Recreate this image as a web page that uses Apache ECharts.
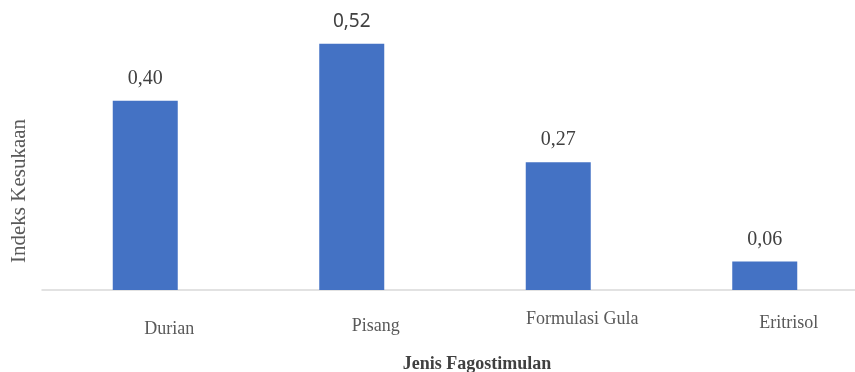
<!DOCTYPE html>
<html><head><meta charset="utf-8">
<script src="https://cdn.jsdelivr.net/npm/echarts@6/dist/echarts.min.js"></script>
<style>html,body{margin:0;padding:0;background:#fff}#c{width:855px;height:372px}</style>
</head><body><div id="c"></div>
<script>
var categories = ['Durian', 'Pisang', 'Formulasi Gula', 'Eritrisol'];
var values = [0.40, 0.52, 0.27, 0.06];
var xTitle = 'Jenis Fagostimulan';
var yTitle = 'Indeks Kesukaan';

// per-category label vertical offsets (style only)
var labelTopPad = [10, 7, 0, 4];
var rich = {};
labelTopPad.forEach(function (p, i) {
  rich['c' + i] = { padding: [p, 0, 0, 48], fontFamily: 'Liberation Serif', fontSize: 18, color: '#595959' };
});

var chart = echarts.init(document.getElementById('c'));
chart.setOption({
  animation: false,
  grid: { left: 42, top: 6, width: 826, height: 284, containLabel: false, outerBoundsMode: 'none' },
  xAxis: {
    type: 'category',
    data: categories,
    axisLine: { lineStyle: { color: '#d9d9d9', width: 1.5 } },
    axisTick: { show: false },
    axisLabel: {
      margin: 20,
      interval: 0,
      formatter: function (v, i) { return '{c' + i + '|' + v + '}'; },
      rich: rich
    },
    name: xTitle,
    nameLocation: 'middle',
    nameGap: 65,
    nameTextStyle: { fontFamily: 'Liberation Serif', fontWeight: 'bold', fontSize: 18, color: '#404040', padding: [0, 0, 0, 44] }
  },
  yAxis: {
    type: 'value',
    min: 0,
    max: 0.6,
    axisLine: { show: false },
    axisTick: { show: false },
    axisLabel: { show: false },
    splitLine: { show: false },
    name: yTitle,
    nameLocation: 'middle',
    nameGap: 12,
    nameTextStyle: { fontFamily: 'Liberation Serif', fontSize: 21, color: '#595959', padding: [0, 86, 0, 0] }
  },
  series: [{
    type: 'bar',
    data: values.map(function (v, i) {
      var item = { value: v };
      if (i === 1) item.label = { fontFamily: 'Noto Sans', fontSize: 19, distance: 13 };
      return item;
    }),
    barWidth: 65,
    itemStyle: { color: '#4472C4' },
    label: {
      show: true,
      position: 'top',
      distance: 12,
      fontFamily: 'Liberation Serif',
      fontSize: 20,
      color: '#404040',
      formatter: function (p) { return p.value.toFixed(2).replace('.', ','); }
    }
  }]
});
</script>
</body></html>
